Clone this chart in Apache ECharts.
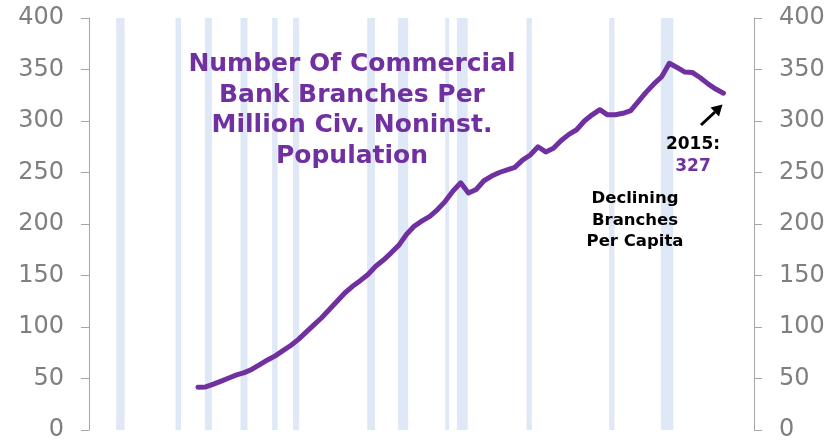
<!DOCTYPE html>
<html>
<head>
<meta charset="utf-8">
<script src="https://cdn.jsdelivr.net/npm/echarts@6/dist/echarts.min.js"></script>
<style>
	html, body { margin: 0; padding: 0; background: #fff; }
	#chart { width: 840px; height: 442px; }
</style>
</head>
<body>
<div id="chart"></div>
<script>
// annual observations, year-end
const years = [
	1947, 1948, 1949, 1950, 1951, 1952, 1953, 1954, 1955, 1956,
	1957, 1958, 1959, 1960, 1961, 1962, 1963, 1964, 1965, 1966,
	1967, 1968, 1969, 1970, 1971, 1972, 1973, 1974, 1975, 1976,
	1977, 1978, 1979, 1980, 1981, 1982, 1983, 1984, 1985, 1986,
	1987, 1988, 1989, 1990, 1991, 1992, 1993, 1994, 1995, 1996,
	1997, 1998, 1999, 2000, 2001, 2002, 2003, 2004, 2005, 2006,
	2007, 2008, 2009, 2010, 2011, 2012, 2013, 2014, 2015
]
const branchesPerMillion = [
	41.5, 41.8, 44.5, 47.5, 50.5, 53.5, 55.7, 59, 63.5, 68,
	72, 77, 82, 88, 95, 102, 109, 117, 125, 133,
	139.5, 145, 151, 159, 165, 172, 179.5, 190, 198, 203,
	207.5, 214, 222, 232, 240, 230, 233.5, 242, 246.5, 250,
	252.5, 255, 262, 267, 275, 270, 273.5, 281, 287, 291.5,
	300, 306, 311, 306, 306, 307.5, 310, 319, 328, 336,
	343, 356, 352, 347.5, 347, 342, 336, 331, 327
]
// NBER recessions, as fractional years
const recessionStart = [1937.42, 1945.1, 1948.9, 1953.5, 1957.6, 1960.3, 1969.9, 1973.9, 1980.0, 1981.5, 1990.5, 2001.2, 2007.9]
const recessionEnd = [1938.5, 1945.8, 1949.8, 1954.4, 1958.3, 1961.1, 1970.9, 1975.2, 1980.5, 1982.9, 1991.2, 2001.9, 2009.5]

const yMin = 0
const yMax = 400
const yStep = 50

const PURPLE = '#7030a0'
const FONT = 'DejaVu Sans'

const chart = echarts.init(document.getElementById('chart'))

function yAxisFor(position) {
	return {
		type: 'value',
		position,
		min: yMin,
		max: yMax,
		interval: yStep,
		splitLine: { show: false },
		axisLine: { show: true, lineStyle: { color: '#a6a6a6', width: 1 } },
		axisTick: { show: true, length: 8, lineStyle: { color: '#a6a6a6' } },
		axisLabel: {
			margin: 25,
			color: '#7f7f7f',
			fontFamily: FONT,
			fontSize: 24
		}
	}
}

const options = {
	animation: false,
	grid: { left: 89, right: 86, top: 18, bottom: 11 },
	xAxis: {
		type: 'value',
		min: 1933.9,
		max: 2019.95,
		show: false
	},
	yAxis: [yAxisFor('left'), yAxisFor('right')],
	series: [
		{
			type: 'line',
			yAxisIndex: 0,
			symbol: 'none',
			z: 3,
			lineStyle: { color: PURPLE, width: 5, cap: 'round', join: 'round' },
			data: years.map((y, i) => [y + 1, branchesPerMillion[i]]),
			markArea: {
				silent: true,
				itemStyle: { color: '#dfe8f6' },
				data: recessionStart.map((s, i) => [{ xAxis: s }, { xAxis: recessionEnd[i] }])
			}
		}
	],
	graphic: [
		{
			type: 'text',
			z: 100,
			x: 352,
			y: 49.5,
			style: {
				text: 'Number Of Commercial\nBank Branches Per\nMillion Civ. Noninst.\nPopulation',
				fill: PURPLE,
				font: 'bold 25px "DejaVu Sans"',
				align: 'center',
				verticalAlign: 'top',
				lineHeight: 30.5
			}
		},
		{
			type: 'text',
			z: 100,
			x: 635,
			y: 188,
			style: {
				text: 'Declining\nBranches\nPer Capita',
				fill: '#000',
				font: 'bold 16.5px "DejaVu Sans"',
				align: 'center',
				verticalAlign: 'top',
				lineHeight: 21.5
			}
		},
		{
			type: 'text',
			z: 100,
			x: 693,
			y: 134,
			style: {
				text: '{a|2015:}\n{b|327}',
				align: 'center',
				verticalAlign: 'top',
				rich: {
					a: { fill: '#000', font: 'bold 17px "DejaVu Sans"', lineHeight: 21.7 },
					b: { fill: PURPLE, font: 'bold 17px "DejaVu Sans"', lineHeight: 21.7 }
				}
			}
		},
		{
			type: 'line',
			z: 100,
			shape: { x1: 701, y1: 125, x2: 715, y2: 112 },
			style: { stroke: '#000', lineWidth: 3 }
		},
		{
			type: 'polygon',
			z: 100,
			shape: { points: [[722.5, 104.5], [719, 116.5], [710.5, 107.5]] },
			style: { fill: '#000' }
		}
	]
}

chart.setOption(options)
</script>
</body>
</html>
